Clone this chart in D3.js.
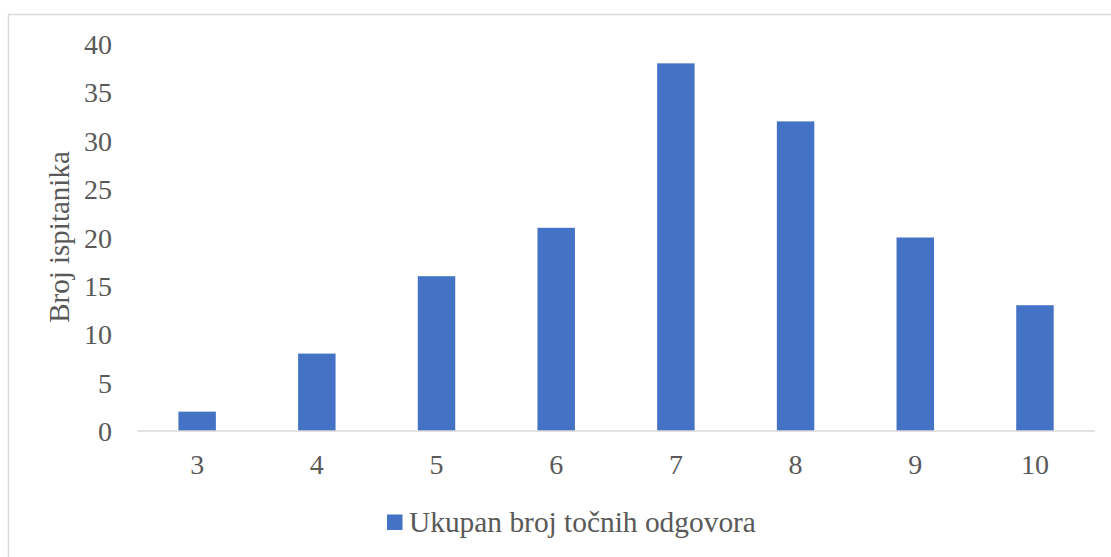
<!DOCTYPE html>
<html>
<head>
<meta charset="utf-8">
<script src="https://cdn.jsdelivr.net/npm/d3@7"></script>
<style>
  html, body { margin: 0; padding: 0; background: #fff; }
  svg { display: block; }
</style>
</head>
<body>
<svg id="chart" width="1111" height="557"></svg>
<script>
const categories = ["3", "4", "5", "6", "7", "8", "9", "10"];
const values = [2, 8, 16, 21, 38, 32, 20, 13];
const yTicks = [0, 5, 10, 15, 20, 25, 30, 35, 40];
const seriesName = "Ukupan broj točnih odgovora";
const yTitle = "Broj ispitanika";

const svg = d3.select("#chart");
const font = "'Liberation Serif', 'Times New Roman', serif";
const textColor = "#595959";

// outer border
svg.append("rect")
  .attr("x", 8.5).attr("y", 14.5)
  .attr("width", 1120).attr("height", 560)
  .attr("fill", "none").attr("stroke", "#d9d9d9").attr("stroke-width", 1.5);

const x = d3.scaleBand().domain(categories).range([137.3, 1094.8]).paddingInner(0.687).paddingOuter(0.3435);
const y = d3.scaleLinear().domain([0, 40]).range([431, 44]);

// bars
svg.append("g").selectAll("rect").data(values).join("rect")
  .attr("x", (d, i) => x(categories[i]))
  .attr("y", d => y(d))
  .attr("width", x.bandwidth())
  .attr("height", d => y(0) - y(d))
  .attr("fill", "#4472c4");

// x axis
const xAxis = svg.append("g").attr("transform", `translate(0,${y(0)})`)
  .call(d3.axisBottom(x).tickSize(0).tickPadding(0));
xAxis.select(".domain").attr("stroke", "#d9d9d9").attr("stroke-width", 1.5).attr("d", "M137.3,0H1094.8");
xAxis.selectAll("text")
  .attr("font-family", font).attr("font-size", 28).attr("fill", textColor)
  .attr("dy", null).attr("y", 43);

// y axis
const yAxis = svg.append("g").attr("transform", "translate(112,0)")
  .call(d3.axisLeft(y).tickValues(yTicks).tickSize(0).tickPadding(0));
yAxis.select(".domain").remove();
yAxis.selectAll("text")
  .attr("font-family", font).attr("font-size", 28).attr("fill", textColor)
  .attr("x", 0).attr("dy", "0.34em");

// y title
svg.append("text")
  .attr("transform", "translate(69,237) rotate(-90)")
  .attr("text-anchor", "middle")
  .attr("font-family", font).attr("font-size", 29).attr("fill", textColor)
  .text(yTitle);

// legend
const lg = svg.append("g");
lg.append("rect").attr("x", 387).attr("y", 514.5).attr("width", 15.5).attr("height", 15.5).attr("fill", "#4472c4");
lg.append("text").attr("x", 409).attr("y", 532)
  .attr("font-family", font).attr("font-size", 29.4).attr("fill", textColor)
  .text(seriesName);
</script>
</body>
</html>
